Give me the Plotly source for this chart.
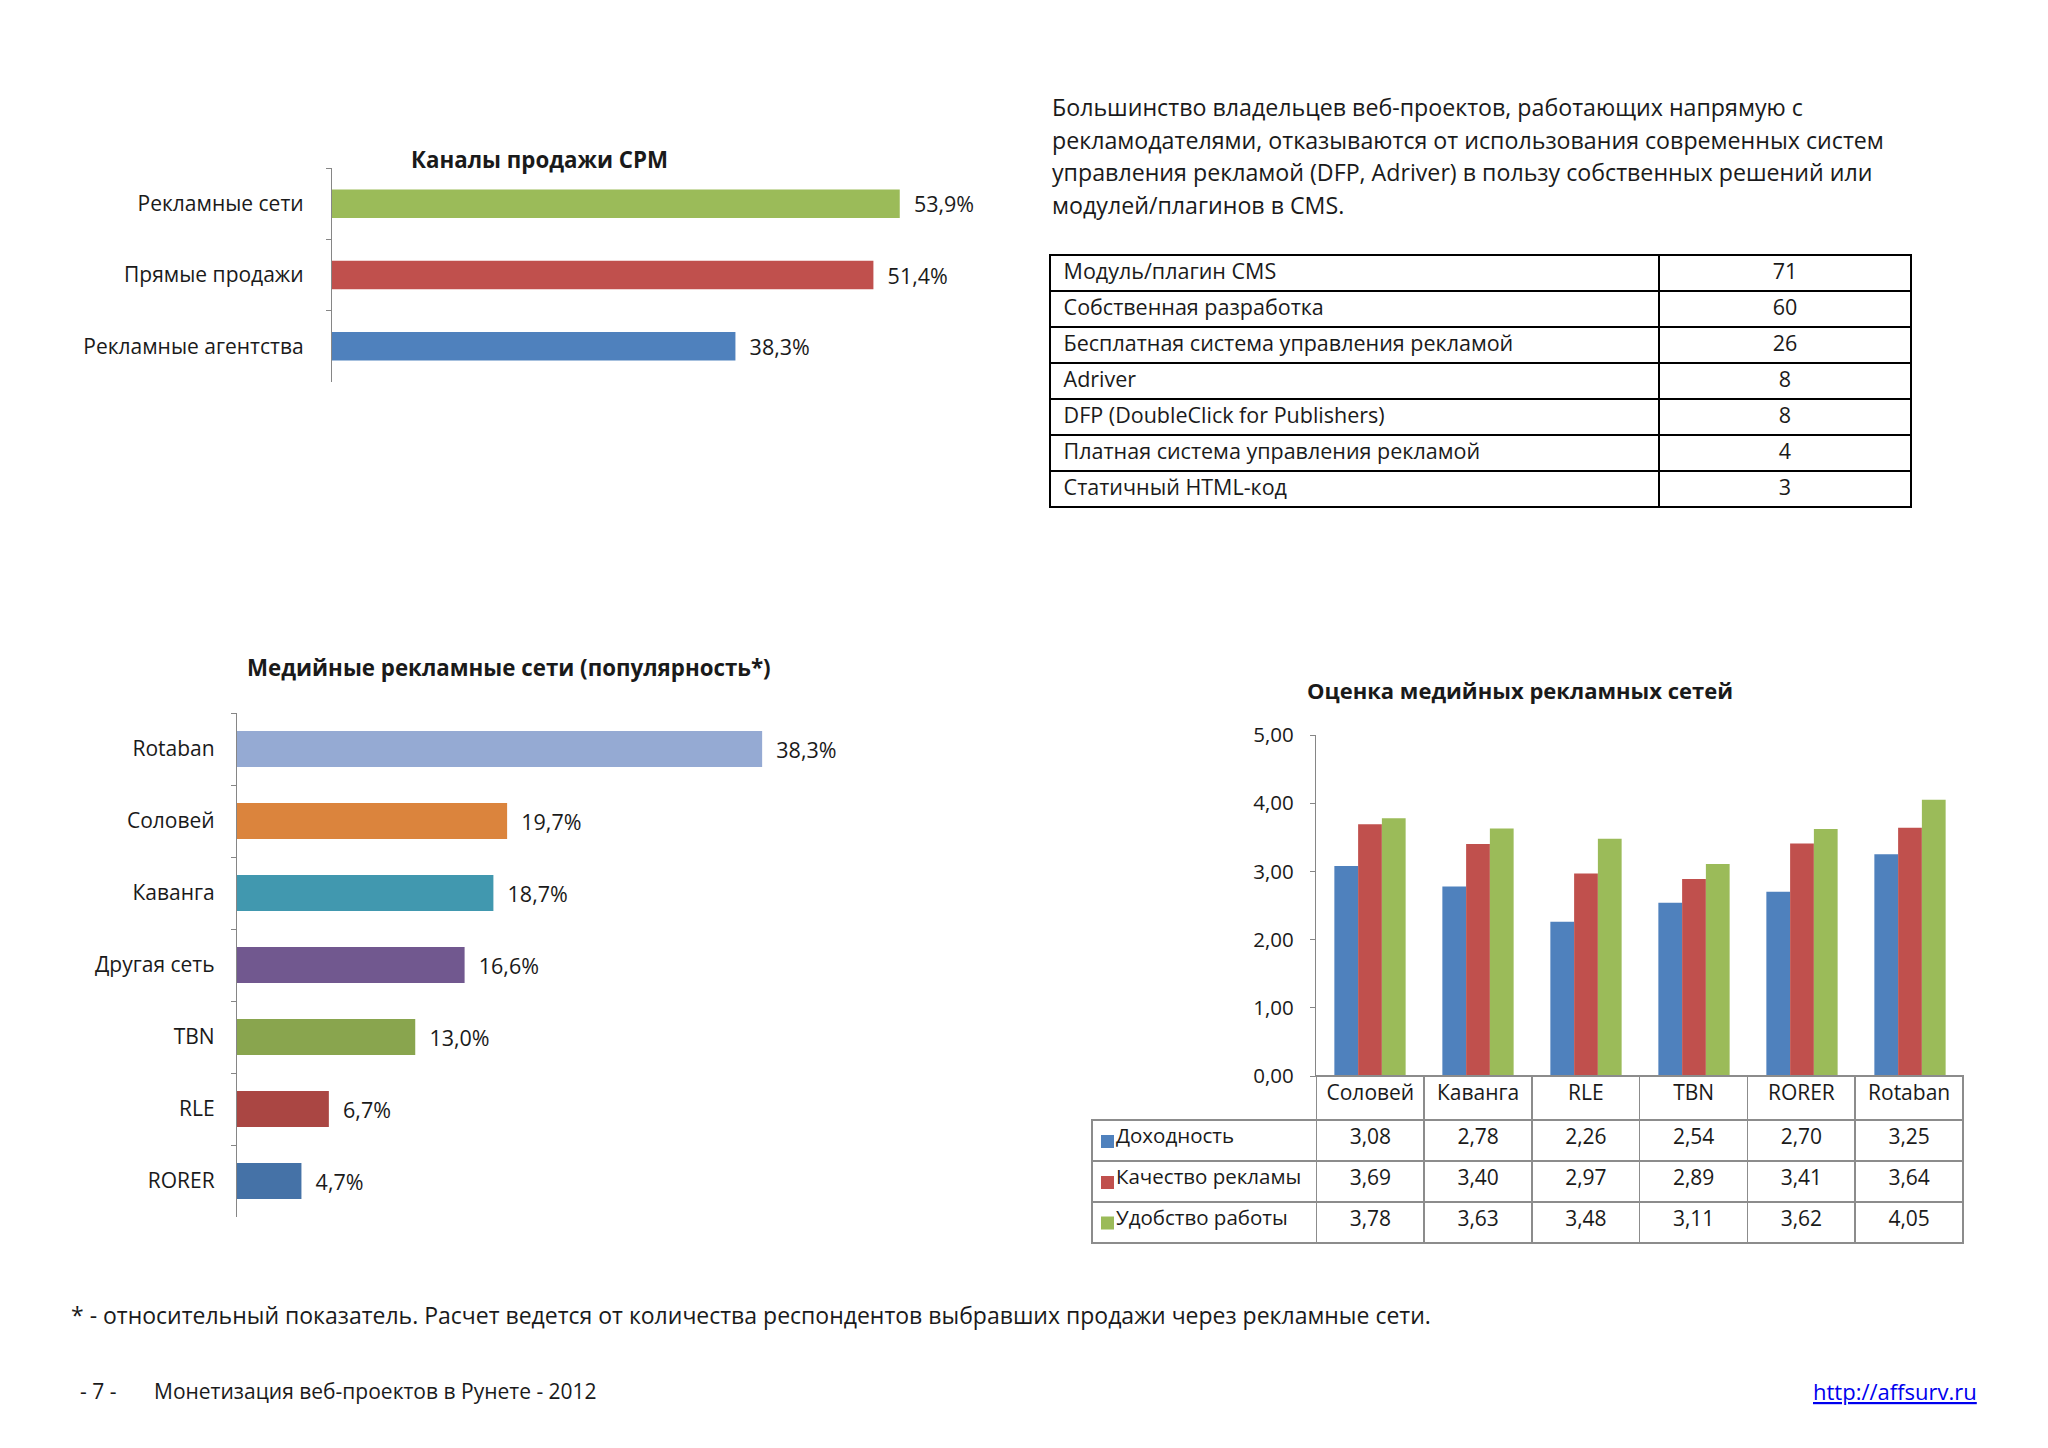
import plotly.graph_objects as go

# page is 2048x1448; the browser body has an 8px margin, so the figure is 16px smaller
OFF = 8
W, H = 2048 - 2 * OFF, 1448 - 2 * OFF
FONT = "Open Sans"
TXT = "#1a1a1a"
AXC = "#868686"
GRID = "#8C8C8C"

# ---- Chart 1: Каналы продажи CPM
ch1_title = "Каналы продажи CPM"
ch1_cats = ["Рекламные сети", "Прямые продажи", "Рекламные агентства"]
ch1_vals = [53.9, 51.4, 38.3]
ch1_colors = ["#9BBB59", "#C0504D", "#4F81BD"]

# ---- Chart 2: Медийные рекламные сети (популярность*)
ch2_title = "Медийные рекламные сети (популярность*)"
ch2_cats = ["Rotaban", "Соловей", "Каванга", "Другая сеть", "TBN", "RLE", "RORER"]
ch2_vals = [38.3, 19.7, 18.7, 16.6, 13.0, 6.7, 4.7]
ch2_colors = ["#95AAD3", "#DB843D", "#4198AF", "#71588F", "#89A54E", "#AA4643", "#4572A7"]

# ---- Table: systems
tbl_labels = ["Модуль/плагин CMS", "Собственная разработка",
              "Бесплатная система управления рекламой", "Adriver",
              "DFP (DoubleClick for Publishers)",
              "Платная система управления рекламой", "Статичный HTML-код"]
tbl_counts = [71, 60, 26, 8, 8, 4, 3]

paragraph = ["Большинство владельцев веб-проектов, работающих напрямую с",
             "рекламодателями, отказываются от использования современных систем",
             "управления рекламой (DFP, Adriver) в пользу собственных решений или",
             "модулей/плагинов в CMS."]

# ---- Chart 3: Оценка медийных рекламных сетей
ch3_title = "Оценка медийных рекламных сетей"
ch3_cats = ["Соловей", "Каванга", "RLE", "TBN", "RORER", "Rotaban"]
ch3_series = ["Доходность", "Качество рекламы", "Удобство работы"]
ch3_income = [3.08, 2.78, 2.26, 2.54, 2.70, 3.25]
ch3_quality = [3.69, 3.40, 2.97, 2.89, 3.41, 3.64]
ch3_convenience = [3.78, 3.63, 3.48, 3.11, 3.62, 4.05]
ch3_colors = ["#4F81BD", "#C0504D", "#9BBB59"]
ch3_yticks = [0, 1, 2, 3, 4, 5]

footnote = "* - относительный показатель. Расчет ведется от количества респондентов выбравших продажи через рекламные сети."
page_no = "- 7 -"
footer = "Монетизация веб-проектов в Рунете - 2012"
url = "http://affsurv.ru"

NB = "\u00a0"


def px(x):
    return (x - OFF) / W


def py(y):
    return 1 - (y - OFF) / H


fig = go.Figure()

# Chart 1 bars
fig.add_trace(go.Bar(
    y=ch1_cats, x=ch1_vals, orientation="h", width=0.4,
    marker=dict(color=ch1_colors, line=dict(width=0)),
    texttemplate="  %{x:.1f}%", textposition="outside", constraintext="none",
    textfont=dict(family=FONT, size=21.5, color=TXT), cliponaxis=False,
    xaxis="x", yaxis="y", hoverinfo="skip"))

# Chart 2 bars
fig.add_trace(go.Bar(
    y=ch2_cats, x=ch2_vals, orientation="h", width=0.5,
    marker=dict(color=ch2_colors, line=dict(width=0)),
    texttemplate="  %{x:.1f}%", textposition="outside", constraintext="none",
    textfont=dict(family=FONT, size=21.5, color=TXT), cliponaxis=False,
    xaxis="x2", yaxis="y2", hoverinfo="skip"))

# Chart 3 grouped bars
for name, vals, col in zip(ch3_series, [ch3_income, ch3_quality, ch3_convenience], ch3_colors):
    fig.add_trace(go.Bar(x=ch3_cats, y=vals, name=name, marker=dict(color=col, line=dict(width=0)),
                         xaxis="x3", yaxis="y3", hoverinfo="skip"))

# Table of systems
fig.add_trace(go.Table(
    domain=dict(x=[px(1050), px(1911)], y=[py(512), py(255)]),
    columnwidth=[609, 252],
    header=dict(values=[NB + tbl_labels[0], str(tbl_counts[0])], height=36,
                align=["left", "center"], fill=dict(color="white"),
                line=dict(color="black", width=1.5),
                font=dict(family=FONT, size=21.5, color=TXT)),
    cells=dict(values=[[NB + t for t in tbl_labels[1:]], [str(v) for v in tbl_counts[1:]]], height=36,
               align=["left", "center"], fill=dict(color="white"),
               line=dict(color="black", width=1.5),
               font=dict(family=FONT, size=21.5, color=TXT))))


# Data table for chart 3
def fmt(v):
    return f"{v:.2f}".replace(".", ",")


legend_cells = [NB * 3 + s.replace(" ", NB) for s in ch3_series]
series_all = [ch3_income, ch3_quality, ch3_convenience]
cols = [legend_cells] + [[fmt(s[i]) for s in series_all] for i in range(len(ch3_cats))]
CLEAR = "rgba(0,0,0,0)"
fig.add_trace(go.Table(
    domain=dict(x=[px(1092), px(1964)], y=[py(1250), py(1076)]),
    columnwidth=[225] + [108] * len(ch3_cats),
    header=dict(values=[""] + ch3_cats, height=44, align="center",
                fill=dict(color=[CLEAR] + ["white"] * len(ch3_cats)),
                line=dict(color=[CLEAR] + [GRID] * len(ch3_cats), width=1.5),
                font=dict(family=FONT, size=21, color=TXT)),
    cells=dict(values=cols, height=41, align=["left"] + ["center"] * len(ch3_cats),
               fill=dict(color="white"), line=dict(color=GRID, width=1.5),
               font=dict(family=FONT, size=[20.5] + [21] * len(ch3_cats), color=TXT))))

# legend keys of the data table
shapes = []
row_centers = [1141.5, 1182.5, 1223]
for c, yc in zip(ch3_colors, row_centers):
    shapes.append(dict(type="rect", xref="paper", yref="paper",
                       x0=px(1101), x1=px(1114), y0=py(yc + 6.5), y1=py(yc - 6.5),
                       fillcolor=c, line=dict(width=0), layer="above"))

cat_axis = dict(type="category", autorange="reversed", showline=True, linecolor=AXC, linewidth=1.3,
                ticks="outside", ticklen=5, tickwidth=1.3, tickcolor=AXC, tickson="boundaries",
                showgrid=False, zeroline=False, automargin=False,
                tickfont=dict(family=FONT, size=21, color=TXT))

annotations = [
    dict(text=f"<b>{ch1_title}</b>", x=px(539), y=py(159), font=dict(size=22.3)),
    dict(text=f"<b>{ch2_title}</b>", x=px(509), y=py(667), font=dict(size=22.3)),
    dict(text=f"<b>{ch3_title}</b>", x=px(1520), y=py(690), font=dict(size=22)),
    dict(text=footnote, x=px(69), y=py(1315), xanchor="left", font=dict(size=23)),
    dict(text=page_no, x=px(78), y=py(1391), xanchor="left", font=dict(size=21)),
    dict(text=footer, x=px(152), y=py(1391), xanchor="left", font=dict(size=21)),
    dict(text=f"<u>{url}</u>", x=px(1979), y=py(1391), xanchor="right",
         font=dict(size=22, color="#0000EE")),
]
for i, line in enumerate(paragraph):
    annotations.append(dict(text=line, x=px(1050), y=py(107 + i * 32.7), xanchor="left",
                            font=dict(size=23.2)))
for a in annotations:
    a.setdefault("xanchor", "center")
    a.update(xref="paper", yref="paper", showarrow=False, yanchor="middle")
    a["font"] = dict(family=FONT, color=a["font"].get("color", TXT), size=a["font"]["size"])

fig.update_layout(
    width=W, height=H, margin=dict(l=0, r=0, t=0, b=0, autoexpand=False),
    paper_bgcolor="white", plot_bgcolor="white",
    separators=", ", showlegend=False, barmode="group", bargap=0.34, bargroupgap=0,
    font=dict(family=FONT, color=TXT),
    xaxis=dict(domain=[px(332), px(964)], range=[0, 60], visible=False, anchor="y", automargin=False),
    yaxis=dict(domain=[py(382), py(168)], anchor="x", ticklabelstandoff=23, **cat_axis),
    xaxis2=dict(domain=[px(237), px(854)], range=[0, 45], visible=False, anchor="y2", automargin=False),
    yaxis2=dict(domain=[py(1217), py(713)], anchor="x2", ticklabelstandoff=17, **cat_axis),
    xaxis3=dict(domain=[px(1316), px(1964)], type="category", showline=True, linecolor=GRID,
                linewidth=1.3, showticklabels=False, ticks="", showgrid=False, anchor="y3",
                automargin=False),
    yaxis3=dict(domain=[py(1076), py(735)], range=[0, 5], tickvals=ch3_yticks, tickformat=".2f",
                showline=True, linecolor=AXC, linewidth=1.3, ticks="outside", ticklen=5,
                tickwidth=1.3, tickcolor=AXC, showgrid=False, zeroline=False, automargin=False,
                ticklabelstandoff=12, tickfont=dict(family=FONT, size=20.5, color=TXT), anchor="x3"),
    annotations=annotations,
    shapes=shapes,
)

fig.write_html("out.html")
